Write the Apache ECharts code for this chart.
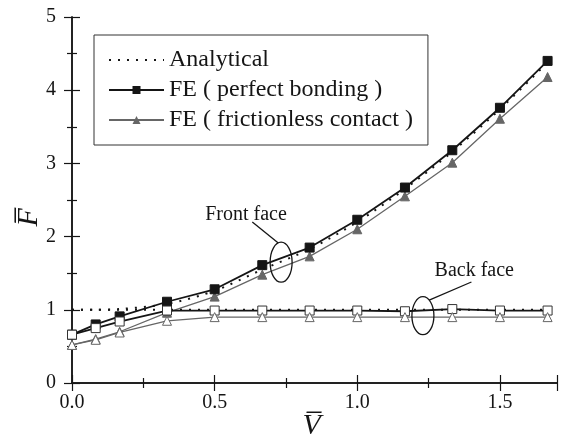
<!DOCTYPE html>
<html>
<head>
<meta charset="utf-8">
<script src="https://cdn.jsdelivr.net/npm/echarts@6/dist/echarts.min.js"></script>
<style>
  html, body { margin: 0; padding: 0; background: #fff; }
  #chart { width: 562px; height: 441px; }
</style>
</head>
<body>
<div id="chart"></div>
<script>
// Normalised velocity V̄ at which F̄ was evaluated
const velocity = [0, 0.083, 0.167, 0.333, 0.5, 0.667, 0.833, 1.0, 1.167, 1.333, 1.5, 1.667];

// Front face
const analyticalFront = [1.0, 1.0, 1.01, 1.08, 1.26, 1.55, 1.83, 2.20, 2.65, 3.16, 3.74, 4.38];
const bondedFront = [0.66, 0.80, 0.91, 1.11, 1.28, 1.61, 1.85, 2.23, 2.67, 3.18, 3.76, 4.40];
const frictionlessFront = [0.52, 0.60, 0.70, 0.96, 1.18, 1.48, 1.73, 2.10, 2.55, 3.01, 3.61, 4.18];

// Back face
const analyticalBack = [1.0, 1.0, 1.0, 1.0, 1.0, 1.0, 1.0, 1.0, 1.0, 1.0, 1.0, 1.0];
const bondedBack = [0.66, 0.75, 0.84, 0.99, 0.99, 0.99, 0.99, 0.99, 0.98, 1.01, 0.99, 0.99];
const frictionlessBack = [0.52, 0.59, 0.69, 0.85, 0.90, 0.90, 0.90, 0.90, 0.90, 0.90, 0.90, 0.90];

const xTicks = ['0.0', '0.5', '1.0', '1.5'];
const yTicks = ['0', '1', '2', '3', '4', '5'];

const pairs = ys => velocity.map((v, i) => [v, ys[i]]);

const SERIF = '"Liberation Serif", "Times New Roman", serif';
const BLACK = '#151515';
const GRAY = '#666666';

const chart = echarts.init(document.getElementById('chart'), null, { renderer: 'canvas' });

const axisCommon = {
  axisLine: { lineStyle: { color: BLACK, width: 1.5 } },
  axisTick: { inside: true, length: 8, lineStyle: { color: BLACK, width: 1.2 } },
  minorTick: { show: true, splitNumber: 2, length: 5, lineStyle: { color: BLACK, width: 1.2 } },
  splitLine: { show: false }
};

const option = {
  backgroundColor: '#fff',
  animation: false,
  grid: { left: 72, right: 5, top: 17, bottom: 58, containLabel: false, outerBoundsMode: 'none' },
  legend: {
    left: 94, top: 35,
    orient: 'vertical',
    data: [
      { name: 'Analytical', itemStyle: { opacity: 0 } },
      { name: 'FE ( perfect bonding )' },
      { name: 'FE ( frictionless contact )' }
    ],
    itemWidth: 55, itemHeight: 10, itemGap: 6,
    padding: [13, 15, 13, 14],
    borderColor: '#333', borderWidth: 1,
    textStyle: { fontFamily: SERIF, fontSize: 24, lineHeight: 24, color: BLACK },
    selectedMode: false
  },
  xAxis: [
    Object.assign({}, axisCommon, {
      type: 'value', min: 0, max: 1.7, interval: 0.5,
      axisLabel: {
        margin: 10, fontFamily: SERIF, fontSize: 20, color: BLACK,
        showMaxLabel: false,
        formatter: v => xTicks[Math.round(v / 0.5)] || ''
      }
    }),
    Object.assign({}, axisCommon, {
      type: 'value', min: 0, max: 1.7, interval: 0.5, position: 'top',
      axisLabel: { show: false }
    })
  ],
  yAxis: [
    Object.assign({}, axisCommon, {
      type: 'value', min: 0, max: 5, interval: 1,
      axisLabel: {
        margin: 16, fontFamily: SERIF, fontSize: 20, color: BLACK,
        formatter: v => yTicks[Math.round(v)]
      }
    }),
    Object.assign({}, axisCommon, {
      type: 'value', min: 0, max: 5, interval: 1, position: 'right',
      axisLabel: { show: false }
    })
  ],
  series: [
    {
      name: 'Analytical', type: 'line', data: pairs(analyticalFront),
      symbol: 'circle', symbolSize: 0, showSymbol: false, smooth: 0.3,
      itemStyle: { color: BLACK },
      lineStyle: { color: BLACK, width: 2, type: [2, 7] }, z: 5
    },
    {
      name: 'Analytical', type: 'line', data: pairs(analyticalBack),
      symbol: 'circle', symbolSize: 0, showSymbol: false,
      itemStyle: { color: BLACK },
      lineStyle: { color: BLACK, width: 2, type: [2, 7] }, z: 5
    },
    {
      name: 'FE ( perfect bonding )', type: 'line', data: pairs(bondedFront),
      symbol: 'rect', symbolSize: 9,
      itemStyle: { color: BLACK, borderColor: BLACK },
      lineStyle: { color: BLACK, width: 1.8 }, z: 4
    },
    {
      name: 'FE ( frictionless contact )', type: 'line', data: pairs(frictionlessFront),
      symbol: 'triangle', symbolSize: 9,
      itemStyle: { color: GRAY, borderColor: GRAY },
      lineStyle: { color: GRAY, width: 1.3 }, z: 3
    },
    {
      name: 'FE ( perfect bonding )', type: 'line', data: pairs(bondedBack),
      symbol: 'rect', symbolSize: 9,
      itemStyle: { color: '#fff', borderColor: '#333', borderWidth: 1 },
      lineStyle: { color: BLACK, width: 1.8 }, z: 6
    },
    {
      name: 'FE ( frictionless contact )', type: 'line', data: pairs(frictionlessBack),
      symbol: 'triangle', symbolSize: 9,
      itemStyle: { color: '#fff', borderColor: GRAY, borderWidth: 1 },
      lineStyle: { color: GRAY, width: 1.3 }, z: 6
    }
  ]
};

chart.setOption(option);

// Callout: a label, a leader line and an ellipse ringing a group of curves.
// Positions are given in data units; the leader meets the ellipse rim at angle `deg`.
function callout(label, center, radius, textAt, lineFrom, deg) {
  const c = chart.convertToPixel({ gridIndex: 0 }, center);
  const t = chart.convertToPixel({ gridIndex: 0 }, textAt);
  const a = chart.convertToPixel({ gridIndex: 0 }, lineFrom);
  const ang = deg * Math.PI / 180;
  const ex = c[0] + radius[0] * Math.cos(ang), ey = c[1] + radius[1] * Math.sin(ang);
  return [
    { type: 'ellipse', shape: { cx: c[0], cy: c[1], rx: radius[0], ry: radius[1] },
      style: { fill: 'none', stroke: BLACK, lineWidth: 1.3 }, z: 20 },
    { type: 'line', shape: { x1: a[0], y1: a[1], x2: ex, y2: ey },
      style: { stroke: BLACK, lineWidth: 1.3 }, z: 20 },
    { type: 'text', x: t[0], y: t[1],
      style: { text: label, fontFamily: SERIF, fontSize: 20, fill: BLACK, align: 'center', verticalAlign: 'middle' },
      z: 20 }
  ];
}

// Axis titles: F̄ (rotated, left) and V̄ (below)
const mid = chart.convertToPixel({ gridIndex: 0 }, [0.84, 2.33]);
const titleStyle = { fontFamily: SERIF, fontStyle: 'italic', fontSize: 30, fill: BLACK, align: 'center', verticalAlign: 'middle' };

chart.setOption({
  graphic: [].concat(
    callout('Front face', [0.733, 1.65], [11, 20], [0.61, 2.30], [0.632, 2.20], -105),
    callout('Back face', [1.23, 0.92], [11, 19], [1.41, 1.53], [1.40, 1.38], -55),
    [
      { type: 'text', x: mid[0], y: 426, style: Object.assign({ text: 'V\u0305' }, titleStyle), z: 20 },
      { type: 'text', x: 29, y: mid[1] + 5, rotation: Math.PI / 2, style: Object.assign({ text: 'F\u0305' }, titleStyle), z: 20 }
    ]
  )
});
</script>
</body>
</html>
